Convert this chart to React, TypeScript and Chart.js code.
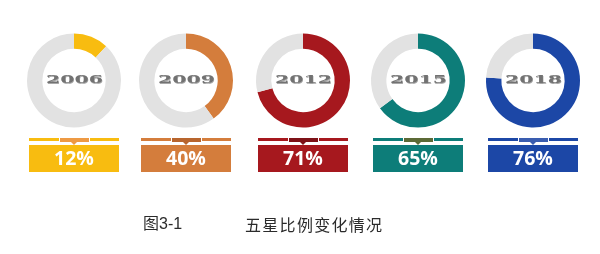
import React, { useEffect, useRef } from "react";
import { Chart, registerables } from "chart.js";

Chart.register(...registerables);

const years = ["2006", "2009", "2012", "2015", "2018"];
const percents = [12, 40, 71, 65, 76];
const mainColors = ["#F8BC10", "#D47D3C", "#A6181E", "#0D7D79", "#1C47A6"];
const tabColors = ["#EE9A44", "#B8652E", "#7E1218", "#5C6A36", "#3A5DB0"];
const restColor = "#E2E2E2";
const captionLabel = "图3-1";
const captionTitle = "五星比例变化情况";

const centers = [73.5, 186, 303, 418, 533];
const COL_W = 116;
const CANVAS_H = 190;

function Donut({ idx }: { idx: number }) {
  const ref = useRef<HTMLCanvasElement | null>(null);
  useEffect(() => {
    if (!ref.current) return;
    const color = mainColors[idx];
    const tab = tabColors[idx];
    const overlay = {
      id: "overlay" + idx,
      afterDraw(chart: any) {
        const ctx = chart.ctx as CanvasRenderingContext2D;
        const meta = chart.getDatasetMeta(0);
        const arc = meta.data[0] as any;
        const cx = arc.x;
        const cy = arc.y;
        // year label
        ctx.save();
        ctx.translate(cx + 0.5, cy);
        ctx.scale(1.95, 1);
        ctx.font = "bold 10.5px 'DejaVu Serif'";
        ctx.textAlign = "center";
        ctx.textBaseline = "middle";
        ctx.fillStyle = "#a8a8a8";
        ctx.fillText(years[idx], 0.3, 0.6);
        ctx.fillStyle = "#727272";
        ctx.fillText(years[idx], 0, 0);
        ctx.restore();
        // tab line
        const half = 45;
        const lineY = 138;
        ctx.fillStyle = color;
        ctx.fillRect(cx - half, lineY, half * 2, 3);
        ctx.fillStyle = "#ffffff";
        ctx.fillRect(cx - 15, lineY, 1, 3);
        ctx.fillRect(cx + 15, lineY, 1, 3);
        ctx.fillStyle = tab;
        ctx.fillRect(cx - 14, lineY, 29, 4);
        ctx.beginPath();
        ctx.moveTo(cx - 3, lineY + 4);
        ctx.lineTo(cx + 3, lineY + 4);
        ctx.lineTo(cx, lineY + 7);
        ctx.closePath();
        ctx.fill();
        // box
        ctx.fillStyle = color;
        ctx.fillRect(cx - half, 145, half * 2, 27);
        ctx.font = "bold 19.5px 'Open Sans'";
        ctx.textAlign = "center";
        ctx.textBaseline = "middle";
        ctx.fillStyle = "#ffffff";
        ctx.fillText(percents[idx] + "%", cx, 159.5);
      },
    };
    const chart = new Chart(ref.current, {
      type: "doughnut",
      data: {
        labels: ["five-star", "other"],
        datasets: [
          {
            data: [percents[idx], 100 - percents[idx]],
            backgroundColor: [color, restColor],
            borderWidth: 0,
          },
        ],
      },
      options: {
        animation: false,
        responsive: false,
        radius: 47,
        cutout: 32,
        layout: { padding: { top: 33, bottom: 62, left: 0, right: 0 } },
        plugins: { legend: { display: false }, tooltip: { enabled: false } },
      } as any,
      plugins: [overlay],
    });
    return () => chart.destroy();
  }, [idx]);
  return (
    <canvas
      ref={ref}
      width={COL_W}
      height={CANVAS_H}
      style={{
        position: "absolute",
        left: centers[idx] - COL_W / 2,
        top: 0,
        width: COL_W,
        height: CANVAS_H,
      }}
    />
  );
}

export default function App() {
  return (
    <div
      style={{
        position: "fixed",
        left: 0,
        top: 0,
        width: 600,
        height: 254,
        background: "#ffffff",
        overflow: "hidden",
      }}
    >
      {years.map((_, i) => (
        <Donut key={i} idx={i} />
      ))}
      <div
        style={{
          position: "absolute",
          left: 143,
          top: 213,
          fontFamily: "'Liberation Sans', 'Noto Sans CJK SC', sans-serif",
          fontSize: 16,
          color: "#2b2b2b",
          whiteSpace: "nowrap",
          lineHeight: "22px",
        }}
      >
        {captionLabel}
      </div>
      <div
        style={{
          position: "absolute",
          left: 245,
          top: 213,
          fontFamily: "'Noto Sans CJK SC', sans-serif",
          fontSize: 16,
          letterSpacing: 1.3,
          color: "#2b2b2b",
          whiteSpace: "nowrap",
          lineHeight: "22px",
        }}
      >
        {captionTitle}
      </div>
    </div>
  );
}
